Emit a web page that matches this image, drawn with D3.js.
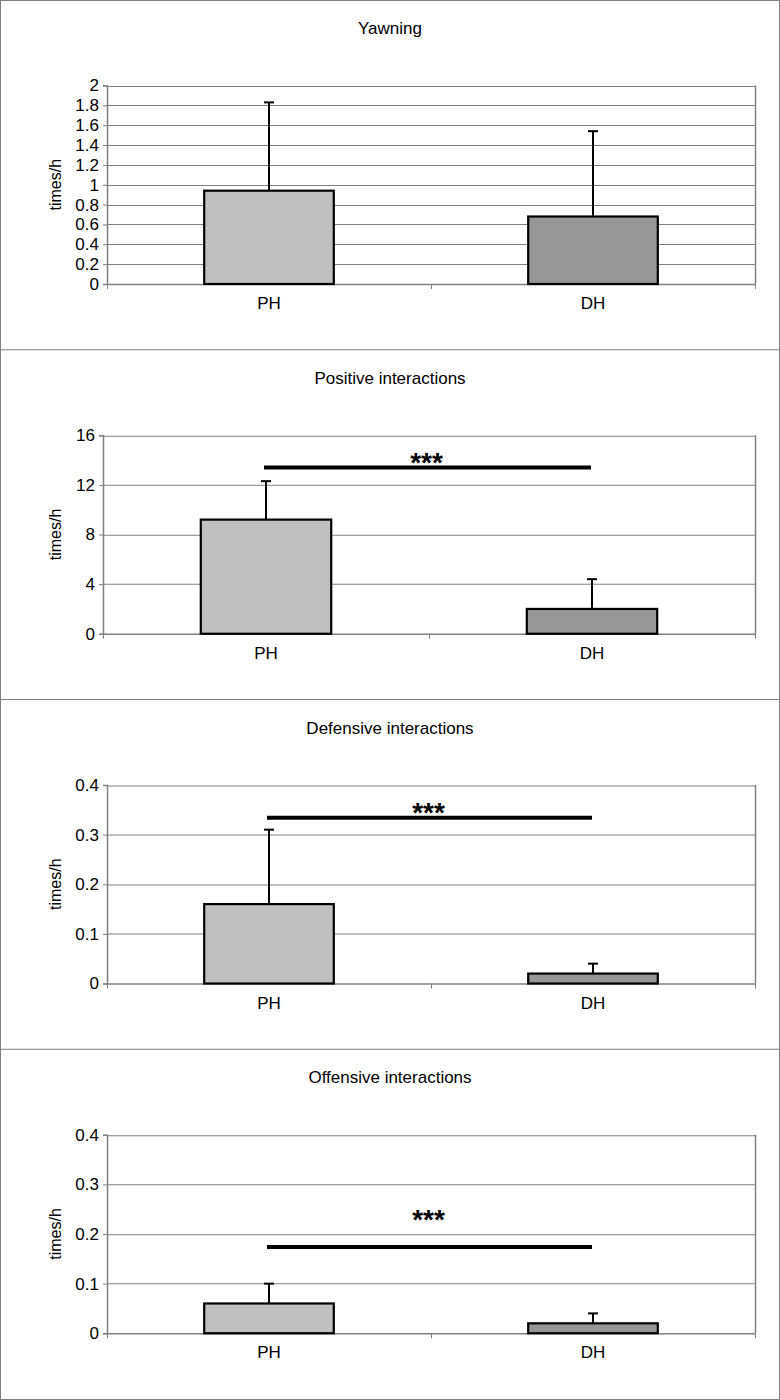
<!DOCTYPE html>
<html>
<head>
<meta charset="utf-8">
<script src="https://cdn.jsdelivr.net/npm/d3@7"></script>
<style>
  body { margin: 0; background: #fff; }
  svg { display: block; font-family: "Liberation Sans", Arial, sans-serif; }
</style>
</head>
<body>
<div id="chart"></div>
<script>
// data
var titles = ["Yawning", "Positive interactions", "Defensive interactions", "Offensive interactions"]
var groups = ["PH", "DH"]
var means = [[0.94, 0.68], [9.2, 2.0], [0.16, 0.02], [0.06, 0.02]]
var errs = [[0.89, 0.86], [3.1, 2.4], [0.15, 0.02], [0.04, 0.02]]
var yMax = [2, 16, 0.4, 0.4]
var yStep = [0.2, 4, 0.1, 0.1]
var sigLevel = [null, 13.4, 0.334, 0.174]
var sigText = "***"

var fills = ["#c0c0c0", "#969696"]
var W = 780, H = 1400, panelH = 349.75
var plotLeft = [107, 103, 107, 107]
var plotRight = 755
var fontSize = 17

var svg = d3.select("#chart").append("svg")
  .attr("width", W)
  .attr("height", H)

// outer frame
svg.append("rect")
  .attr("x", 0.5).attr("y", 0.5)
  .attr("width", W - 1).attr("height", H - 1)
  .attr("fill", "none").attr("stroke", "#808080")

titles.forEach(function(title, i) {
  var y0 = i * panelH
  var g = svg.append("g").attr("transform", "translate(0," + y0 + ")")

  if (i > 0) {
    g.append("line")
      .attr("x1", 0).attr("x2", W)
      .attr("y1", 0).attr("y2", 0)
      .attr("stroke", "#808080")
  }

  var top = 85.5, bottom = 284
  var x = d3.scaleBand().domain(groups).range([plotLeft[i], plotRight])
  var y = d3.scaleLinear().domain([0, yMax[i]]).range([bottom, top])
  var ticks = d3.range(0, yMax[i] + yStep[i] / 2, yStep[i]).map(function(v) { return +v.toFixed(3) })

  g.append("text")
    .text(title)
    .attr("x", 390).attr("y", 34)
    .attr("text-anchor", "middle")
    .attr("font-size", fontSize)

  // grid lines
  g.selectAll(".grid")
    .data(ticks.slice(1))
    .enter().append("line")
    .attr("x1", plotLeft[i]).attr("x2", plotRight)
    .attr("y1", function(d) { return Math.round(y(d)) + 0.5 })
    .attr("y2", function(d) { return Math.round(y(d)) + 0.5 })
    .attr("stroke", "#808080")
    .attr("stroke-width", 1)

  // right border
  g.append("line")
    .attr("x1", plotRight + 0.5).attr("x2", plotRight + 0.5)
    .attr("y1", y(yMax[i])).attr("y2", bottom)
    .attr("stroke", "#808080").attr("stroke-width", 1.5)

  // y axis
  var yAxis = g.append("g")
    .attr("transform", "translate(" + plotLeft[i] + ",0)")
    .call(d3.axisLeft(y).tickValues(ticks).tickSize(4).tickPadding(4).tickFormat(function(d) { return String(d) }))
  yAxis.select(".domain").attr("stroke", "#808080").attr("stroke-width", 1.5)
  yAxis.selectAll(".tick line").attr("stroke", "#808080")
  yAxis.selectAll("text").attr("font-size", fontSize).attr("fill", "#000")
    .attr("font-family", "Liberation Sans, Arial, sans-serif")

  // x axis
  var xAxis = g.append("g")
    .attr("transform", "translate(0," + bottom + ")")
    .call(d3.axisBottom(x).tickSize(0).tickPadding(13))
  xAxis.select(".domain").attr("stroke", "#808080").attr("stroke-width", 1.5)
  xAxis.selectAll("text").attr("font-size", fontSize).attr("fill", "#000")
    .attr("font-family", "Liberation Sans, Arial, sans-serif")

  // category separator ticks
  g.selectAll(".xtick")
    .data([plotLeft[i], plotLeft[i] + x.step(), plotRight])
    .enter().append("line")
    .attr("x1", function(d) { return d + 0.5 }).attr("x2", function(d) { return d + 0.5 })
    .attr("y1", bottom).attr("y2", bottom + 5)
    .attr("stroke", "#808080")

  g.append("text")
    .text("times/h")
    .attr("transform", "translate(61," + ((top + bottom) / 2) + ") rotate(-90)")
    .attr("text-anchor", "middle")
    .attr("font-size", 16)

  var barW = x.bandwidth() * 0.4

  // error bars (upper only)
  groups.forEach(function(grp, j) {
    var cx = x(grp) + x.bandwidth() / 2
    var yt = y(means[i][j] + errs[i][j])
    g.append("line")
      .attr("x1", cx).attr("x2", cx)
      .attr("y1", y(means[i][j])).attr("y2", yt)
      .attr("stroke", "#000").attr("stroke-width", 2)
    g.append("line")
      .attr("x1", cx - 5).attr("x2", cx + 5)
      .attr("y1", yt).attr("y2", yt)
      .attr("stroke", "#000").attr("stroke-width", 2)
  })

  // bars
  g.selectAll(".bar")
    .data(groups)
    .enter().append("rect")
    .attr("x", function(d) { return x(d) + x.bandwidth() / 2 - barW / 2 })
    .attr("width", barW)
    .attr("y", function(d, j) { return y(means[i][j]) })
    .attr("height", function(d, j) { return bottom - y(means[i][j]) })
    .attr("fill", function(d, j) { return fills[j] })
    .attr("stroke", "#000")
    .attr("stroke-width", 2.2)

  // significance bar
  if (sigLevel[i] != null) {
    var x1 = x("PH") + x.bandwidth() / 2 - 2
    var x2 = x("DH") + x.bandwidth() / 2 - 1
    var ys = y(sigLevel[i])
    g.append("line")
      .attr("x1", x1).attr("x2", x2)
      .attr("y1", ys).attr("y2", ys)
      .attr("stroke", "#000").attr("stroke-width", 4)
    g.append("text")
      .text(sigText)
      .attr("x", (x1 + x2) / 2 - 1)
      .attr("y", ys + (i == 3 ? -18 : 4))
      .attr("text-anchor", "middle")
      .attr("font-size", 28)
      .attr("font-weight", "bold")
  }
})
</script>
</body>
</html>
